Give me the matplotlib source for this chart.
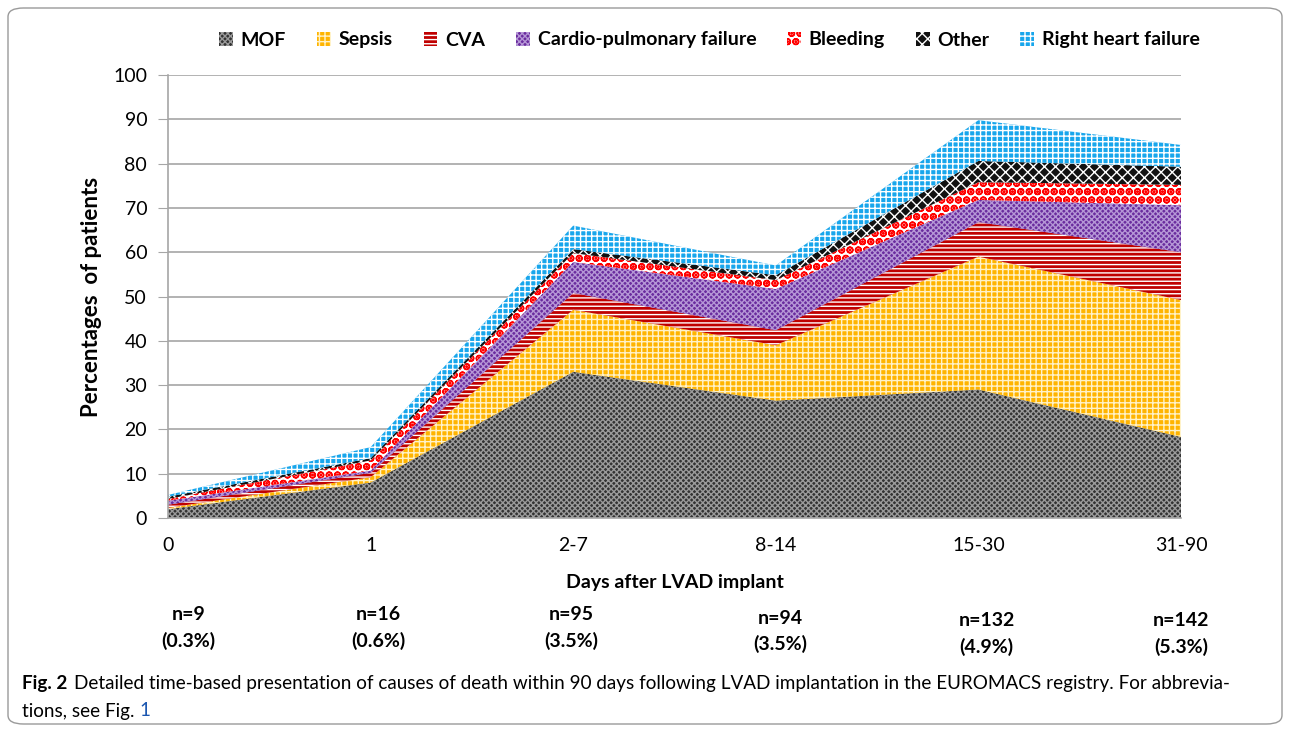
import numpy as np
import matplotlib
matplotlib.use("Agg")
import matplotlib.pyplot as plt
from matplotlib.patches import FancyBboxPatch
from matplotlib.transforms import blended_transform_factory

# Datos (porcentaje por causa, apilado)
categorias = ["0", "1", "2-7", "8-14", "15-30", "31-90"]
mof = [2.0, 8.0, 33.0, 26.5, 29.0, 18.3]
sepsis = [0.3, 1.2, 14.0, 12.5, 30.0, 30.9]
cva = [0.7, 1.0, 3.8, 3.4, 7.8, 10.8]
cardio = [0.9, 0.5, 7.0, 9.3, 5.0, 10.6]
bleeding = [0.4, 2.3, 2.0, 2.0, 4.0, 4.6]
other = [0.5, 0.5, 0.9, 1.1, 4.8, 4.1]
rhf = [0.4, 2.5, 5.3, 2.2, 9.2, 4.9]

nombres = ["MOF", "Sepsis", "CVA", "Cardio-pulmonary failure", "Bleeding",
           "Other", "Right heart failure"]
n_pacientes = ["n=9", "n=16", "n=95", "n=94", "n=132", "n=142"]
n_porcentaje = ["(0.3%)", "(0.6%)", "(3.5%)", "(3.5%)", "(4.9%)", "(5.3%)"]

# estilo de relleno: (fondo, color trama, trama)
estilos = [
    ("#333333", "#9a9a9a", "xxxxxx"),
    ("#FFB400", "#FFF2C8", "+++"),
    ("#C00000", "#FFFFFF", "----"),
    ("#6A2C9E", "#B596D6", "xxxxxx"),
    ("#FFFFFF", "#FF0000", "OO.."),
    ("#111111", "#FFFFFF", "xxx"),
    ("#18A6EC", "#FFFFFF", "+++"),
]

plt.rcParams['font.family'] = ['Lato', 'DejaVu Sans']
plt.rcParams['hatch.linewidth'] = 1.0

fig = plt.figure(figsize=(12.9, 7.3), dpi=100)
ax = fig.add_axes([168 / 1290, 1 - 518 / 730, (1181 - 168) / 1290, (518 - 75) / 730])

x = np.arange(len(categorias))
polys = ax.stackplot(x, mof, sepsis, cva, cardio, bleeding, other, rhf,
                     labels=nombres, linewidth=0)
for p, (fc, hc, h) in zip(polys, estilos):
    p.set_facecolor(fc)
    p.set_edgecolor(hc)
    p.set_hatch(h)
    p.set_linewidth(0)

ax.set_xlim(0, len(categorias) - 1)
ax.set_ylim(0, 100)
ax.set_yticks(range(0, 101, 10))
ax.set_xticks(x)
ax.set_xticklabels(categorias)
ax.yaxis.grid(True, color="#a6a6a6", linewidth=1.2)
ax.set_axisbelow(True)
for s in ["top", "right"]:
    ax.spines[s].set_visible(False)
for s in ["left", "bottom"]:
    ax.spines[s].set_color("#a6a6a6")
    ax.spines[s].set_linewidth(1.2)
ax.tick_params(axis="y", length=7, color="#a6a6a6", labelsize=14, pad=8)
ax.tick_params(axis="x", length=0, labelsize=14, pad=14)

ax.set_ylabel("Percentages  of patients", fontsize=16, fontweight="bold", labelpad=8)
ax.set_xlabel("Days after LVAD implant", fontsize=14, fontweight="bold", labelpad=14)

fig.legend(handles=polys, labels=nombres, loc="center", bbox_to_anchor=(0.55, 1 - 40 / 730),
           ncol=7, frameon=False, prop={"weight": "bold", "size": 14},
           handlelength=0.7, handleheight=0.7, handletextpad=0.4, columnspacing=1.6)

# n por categoria
tr = blended_transform_factory(ax.transData, fig.transFigure)
desplaz = [0.1, 0.04, -0.01, 0.02, 0.04, 0.0]
alto = [615, 615, 615, 618, 621, 621]
for i in range(len(categorias)):
    ax.text(x[i] + desplaz[i], 1 - alto[i] / 730, n_pacientes[i], transform=tr,
            ha="center", va="center", fontsize=14, fontweight="bold")
    ax.text(x[i] + desplaz[i], 1 - (alto[i] + 26) / 730, n_porcentaje[i], transform=tr,
            ha="center", va="center", fontsize=14, fontweight="bold")

# pie de figura
tam = 13.6
fig.text(22 / 1290, 1 - 684 / 730, "Fig. 2", fontsize=tam, fontweight="bold", va="center")
fig.text(74 / 1290, 1 - 684 / 730,
         "Detailed time-based presentation of causes of death within 90 days following "
         "LVAD implantation in the EUROMACS registry. For abbrevia-",
         fontsize=tam, va="center")
t = fig.text(22 / 1290, 1 - 711 / 730, "tions, see Fig. ", fontsize=tam, va="center")
fig.canvas.draw()
bb = t.get_window_extent()
fig.text(bb.x1 / 1290, 1 - 711 / 730, "1", fontsize=tam, va="center", color="#1a56b0")

marco = FancyBboxPatch((8 / 1290, 6 / 730), 1274 / 1290, 716 / 730,
                       boxstyle="round,pad=0,rounding_size=0.012",
                       transform=fig.transFigure, fill=False, edgecolor="#9a9a9a",
                       linewidth=1.0)
fig.patches.append(marco)

plt.savefig("out.png", dpi=100)
